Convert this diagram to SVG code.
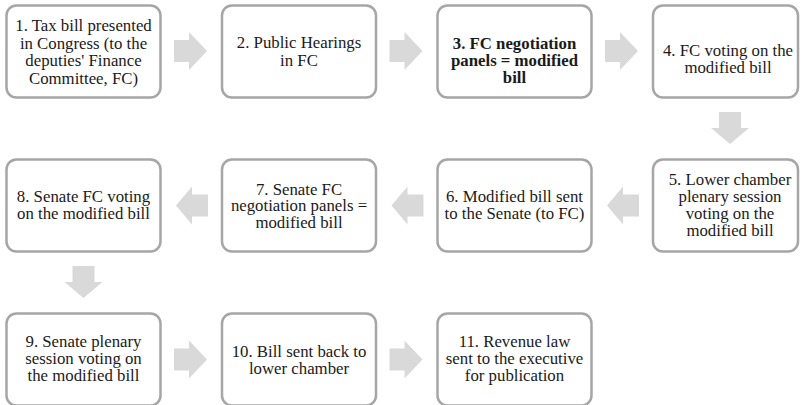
<svg xmlns="http://www.w3.org/2000/svg" width="802" height="405" viewBox="0 0 802 405">
<style>
.box{fill:#fff;stroke:#a6a6a6;stroke-width:2.5}
.arr{fill:#d9d9d9}
text{font-family:"Liberation Serif","Times New Roman",serif;font-size:16.8px;fill:#1a1a1a;text-anchor:middle}
.b{font-weight:bold}
</style>
<rect width="802" height="405" fill="#fff"/>
<defs>
<path id="ar" d="M0,-11 H15 V-19 L33,0 L15,19 V11 H0 Z"/>
<path id="al" d="M0,0 L16,-19 V-11 H32 V11 H16 V19 Z"/>
<path id="ad" d="M-11,0 H11 V16 H19 L0,32 L-19,16 H-11 Z"/>
</defs>
<g id="connectors" class="arr">
<use href="#ar" x="174" y="51"/>
<use href="#ar" x="389.5" y="51"/>
<use href="#ar" x="605" y="51"/>
<use href="#ad" x="730" y="112"/>
<use href="#al" x="607" y="205.5"/>
<use href="#al" x="391.5" y="205.5"/>
<use href="#al" x="176" y="205.5"/>
<use href="#ad" x="83.5" y="266"/>
<use href="#ar" x="174" y="359.5"/>
<use href="#ar" x="389.5" y="359.5"/>
</g>
<g id="n1"><rect class="box" x="6.5" y="5.5" width="154" height="92" rx="10"/>
<text x="83.5" y="31">1. Tax bill presented</text><text x="83.5" y="48.5">in Congress (to the</text><text x="83.5" y="66">deputies' Finance</text><text x="83.5" y="83.5">Committee, FC)</text></g>
<g id="n2"><rect class="box" x="222" y="5.5" width="154" height="92" rx="10"/>
<text x="299" y="48">2. Public Hearings</text><text x="299" y="66">in FC</text></g>
<g id="n3"><rect class="box" x="437.5" y="5.5" width="154" height="92" rx="10"/>
<text class="b" x="514.5" y="49">3. FC negotiation</text><text class="b" x="514.5" y="66">panels = modified</text><text class="b" x="514.5" y="83">bill</text></g>
<g id="n4"><rect class="box" x="653" y="5.5" width="145" height="92" rx="10"/>
<text x="728" y="56">4. FC voting on the</text><text x="728" y="73">modified bill</text></g>
<g id="n5"><rect class="box" x="653" y="159.5" width="145" height="92" rx="10"/>
<text x="730" y="185">5. Lower chamber</text><text x="730" y="202">plenary session</text><text x="730" y="219">voting on the</text><text x="730" y="236">modified bill</text></g>
<g id="n6"><rect class="box" x="437.5" y="159.5" width="154" height="92" rx="10"/>
<text x="514.5" y="202">6. Modified bill sent</text><text x="514.5" y="219">to the Senate (to FC)</text></g>
<g id="n7"><rect class="box" x="222" y="159.5" width="154" height="92" rx="10"/>
<text x="299" y="194.5">7. Senate FC</text><text x="299" y="211">negotiation panels =</text><text x="299" y="228">modified bill</text></g>
<g id="n8"><rect class="box" x="6.5" y="159.5" width="154" height="92" rx="10"/>
<text x="83.5" y="202">8. Senate FC voting</text><text x="83.5" y="219">on the modified bill</text></g>
<g id="n9"><rect class="box" x="6.5" y="313.5" width="154" height="92" rx="10"/>
<text x="83.5" y="347">9. Senate plenary</text><text x="83.5" y="364">session voting on</text><text x="83.5" y="381">the modified bill</text></g>
<g id="n10"><rect class="box" x="222" y="313.5" width="154" height="92" rx="10"/>
<text x="299" y="357">10. Bill sent back to</text><text x="299" y="374">lower chamber</text></g>
<g id="n11"><rect class="box" x="437.5" y="313.5" width="154" height="92" rx="10"/>
<text x="514.5" y="347">11. Revenue law</text><text x="514.5" y="364">sent to the executive</text><text x="514.5" y="381">for publication</text></g>
</svg>
